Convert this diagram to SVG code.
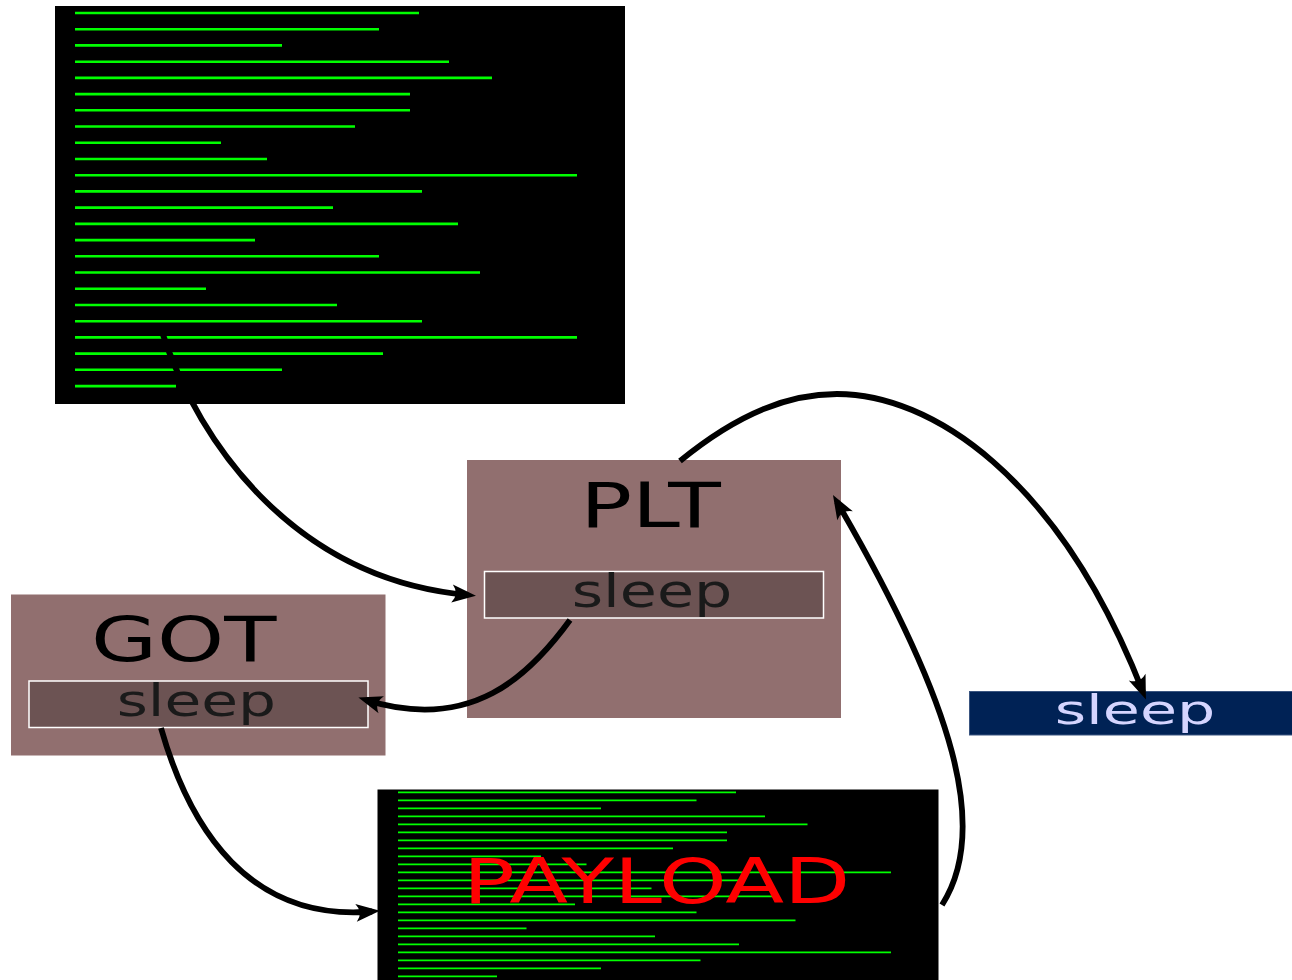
<svg xmlns="http://www.w3.org/2000/svg" width="1292" height="980" viewBox="0 0 1292 980">
  <style>
    .code-bg { fill: #000000; }
    .code { fill: none; stroke: #00ff00; stroke-linecap: butt; }
    .table { fill: #916f6f; }
    .slot { fill: #6c5353; stroke: #ffffff; stroke-width: 1.5; }
    .lib { fill: #002255; stroke: #3a5580; stroke-width: 1; }
    .title { font-family: "DejaVu Sans", sans-serif; fill: #000000; }
    .entry { font-family: "DejaVu Sans", sans-serif; fill: #1a1a1a; }
    .libtxt { font-family: "DejaVu Sans", sans-serif; fill: #d5d5ff; }
    .payload { font-family: "DejaVu Sans", sans-serif; fill: #ff0000; }
    .link { fill: none; stroke: #000000; stroke-width: 5.8; marker-end: url(#head); }
  </style>
  <defs>
    <marker id="head" markerUnits="userSpaceOnUse" markerWidth="40" markerHeight="30" viewBox="-20 -15 40 30" refX="0" refY="0" orient="auto" overflow="visible">
      <path d="M8,0 L-16,-9 Q-8.5,0 -16,9 Z" fill="#000000"/>
    </marker>
  </defs>

  <rect width="1292" height="980" fill="#ffffff"/>

  <!-- program listing -->
  <g id="program">
    <rect class="code-bg" x="55" y="6" width="570" height="398"/>
    <path class="code" stroke-width="2.6" d="M75,13H419 M75,29.2H379 M75,45.4H282 M75,61.7H449 M75,77.9H492 M75,94.1H410 M75,110.3H410 M75,126.5H355 M75,142.8H221 M75,159H267 M75,175.2H577 M75,191.4H422 M75,207.6H333 M75,223.9H458 M75,240.1H255 M75,256.3H379 M75,272.5H480 M75,288.7H206 M75,305H337 M75,321.2H422 M75,337.4H577 M75,353.6H383 M75,369.8H282 M75,386.1H176"/>
  </g>

  <!-- procedure linkage table -->
  <g id="plt">
    <rect class="table" x="467" y="460" width="374" height="258"/>
    <text class="title" x="580.2" y="527" font-size="62" textLength="140.5" lengthAdjust="spacingAndGlyphs">PLT</text>
    <rect class="slot" x="484.5" y="571.5" width="339" height="46.5"/>
    <text class="entry" x="571.7" y="607" font-size="46" textLength="160.6" lengthAdjust="spacingAndGlyphs">sleep</text>
  </g>

  <!-- global offset table -->
  <g id="got">
    <rect class="table" x="11" y="594.5" width="374.5" height="161"/>
    <text class="title" x="90.9" y="661" font-size="63" textLength="185.5" lengthAdjust="spacingAndGlyphs">GOT</text>
    <rect class="slot" x="29" y="681" width="339" height="46.5"/>
    <text class="entry" x="116.7" y="716" font-size="45" textLength="159.3" lengthAdjust="spacingAndGlyphs">sleep</text>
  </g>

  <!-- library function -->
  <g id="libc-sleep">
    <rect class="lib" x="969.5" y="691.5" width="330" height="43.5"/>
    <text class="libtxt" x="1054.7" y="724" font-size="41" textLength="160.6" lengthAdjust="spacingAndGlyphs">sleep</text>
  </g>

  <!-- injected code -->
  <g id="payload">
    <rect class="code-bg" x="377.5" y="789.5" width="561" height="195"/>
    <path class="code" stroke-width="1.8" d="M398,792.3H736 M398,800.3H696.5 M398,808.3H601 M398,816.3H765 M398,824.3H807.5 M398,832.3H727 M398,840.3H727 M398,848.3H673 M398,856.3H541 M398,864.3H586.5 M398,872.3H891 M398,880.3H739 M398,888.3H651.5 M398,896.3H774 M398,904.3H575 M398,912.3H696.5 M398,920.3H795.5 M398,928.3H526.5 M398,936.3H655 M398,944.3H739 M398,952.3H891 M398,960.3H700.5 M398,968.3H601 M398,976.3H497"/>
    <text class="payload" x="462.9" y="903" font-size="62.5" textLength="387.4" lengthAdjust="spacingAndGlyphs">PAYLOAD</text>
  </g>

  <!-- call flow -->
  <g id="connectors">
    <path class="link" d="M161,329 C200,450 300,580 468,595"/>
    <path class="link" d="M680,461 C740,412 790,394 837,394 C930,394 1058,475 1143,692"/>
    <path class="link" d="M570,620 C530,675 472,733 366,700"/>
    <path class="link" d="M161,728 C190,830 250,922 372,911.5"/>
    <path class="link" d="M942,905 C990,830 955,705 837,502"/>
  </g>
</svg>
